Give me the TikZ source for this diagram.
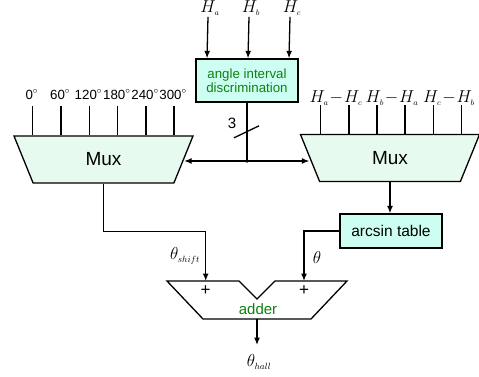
\documentclass[tikz,border=0pt]{standalone}
\usepackage{fontspec}
\setmainfont{Liberation Sans}
\usepackage{tikz}
\usetikzlibrary{arrows.meta,positioning,calc,shapes.geometric}
\definecolor{muxfill}{HTML}{E6FAF0}
\definecolor{boxfill}{HTML}{CCFFF2}
\definecolor{txtgreen}{HTML}{108010}
\newcommand{\sig}[2]{#1_{\scriptscriptstyle #2}}
\begin{document}
\begin{tikzpicture}[x=1pt,y=-1pt,>={Latex[length=7.5pt,width=6pt]},line width=1.3pt,
  every node/.style={font=\fontsize{13.3}{14}\selectfont},
  muxbox/.style={draw,fill=muxfill,trapezium,shape border rotate=180,trapezium angle=46.2,
    trapezium stretches body,minimum width=179pt,minimum height=47pt,font=\fontsize{19}{20}\selectfont},
  hlabel/.style={font=\fontsize{16}{16}\selectfont,inner sep=1pt},
  tlabel/.style={font=\fontsize{18}{18}\selectfont,inner sep=1pt}]
\useasboundingbox (0,0) rectangle (479,377);
\node[draw,fill=boxfill,text=txtgreen,align=center,minimum width=102pt,minimum height=43pt,inner sep=1pt] (disc) at (247,80.5) {angle interval\\discrimination};
\node[muxbox] (muxL) at (103.5,159.5) {Mux};
\node[muxbox] (muxR) at (390,158) {Mux};
\node[draw,fill=boxfill,minimum width=102pt,minimum height=34pt,font=\fontsize{15.5}{16}\selectfont] (arcsin) at (391,231) {arcsin table};
% hall inputs
\node[hlabel] (Ha) at (210,8) {$\sig{H}{a}$};
\node[hlabel] (Hb) at (251,8) {$\sig{H}{b}$};
\node[hlabel] (Hc) at (292,8) {$\sig{H}{c}$};
\foreach \h/\dx in {Ha/-40,Hb/1,Hc/42} \draw[->] ([xshift=-2pt]\h.south) -- ([xshift=\dx pt]disc.north);
% angle inputs of left mux
\foreach \dx/\ang in {-70.7/0,-42.4/60,-14.1/120,14.3/180,42.6/240,70.6/300} {
  \draw ([xshift=\dx pt]muxL.north) -- ++(0,-29.5);
  \node at ([xshift=\dx pt,yshift=39pt]muxL.north) {\strut\kern-2pt\ang$^{\circ}$};
}
% difference inputs of right mux
\foreach \dx in {-69.7,-41,-13,15,43.3,71.7} \draw ([xshift=\dx pt]muxR.north) -- ++(0,-28.5);
\node[hlabel] (dAC) at (336,98) {$\sig{H}{a}\!-\!\sig{H}{c}$};
\node[hlabel] (dBA) at (392,98) {$\sig{H}{b}\!-\!\sig{H}{a}$};
\node[hlabel] (dCB) at (449,98) {$\sig{H}{c}\!-\!\sig{H}{b}$};
% select bus
\coordinate (jn) at (disc.south |- 0,161);
\draw (disc.south) -- (jn);
\fill (jn) circle (1.8pt);
\draw[->] (jn) -- (muxL.east |- jn);
\draw[->] (jn) -- (muxR.west |- jn);
\draw ($(disc.south)!0.5!(jn)+(-13,6)$) -- ++(25,-12);
\node[font=\fontsize{15}{16}\selectfont] (nsel) at (232,123) {3};
% adder
\coordinate (addL) at (205.7,281);
\coordinate (addR) at (304,281);
\coordinate (addB) at (257,319);
\draw (167,281) -- (239,281) -- (257,299) -- (275,281) -- (347,281) -- (311,319) -- (203,319) -- cycle;
\node[font=\fontsize{17}{17}\selectfont] (plusL) at (205.7,291) {+};
\node[font=\fontsize{17}{17}\selectfont] (plusR) at (304,291) {+};
\node[text=txtgreen,font=\fontsize{15}{16}\selectfont] (adder) at (258,309) {adder};
\draw[->] (muxL.south) -- ++(0,48) -| (addL);
\draw[->] (muxR.south) -- (muxR.south |- arcsin.north);
\draw[->] (arcsin.west) -| (addR);
\node[tlabel] (tshift) at (185,256) {$\sig{\theta}{shift}$};
\node[tlabel] (tarc) at (317,257) {$\theta$};
\coordinate (outE) at (257,345);
\draw[->] (addB) -- (outE);
\node[tlabel] (thall) at (259,362) {$\sig{\theta}{hall}$};
\end{tikzpicture}
\end{document}
